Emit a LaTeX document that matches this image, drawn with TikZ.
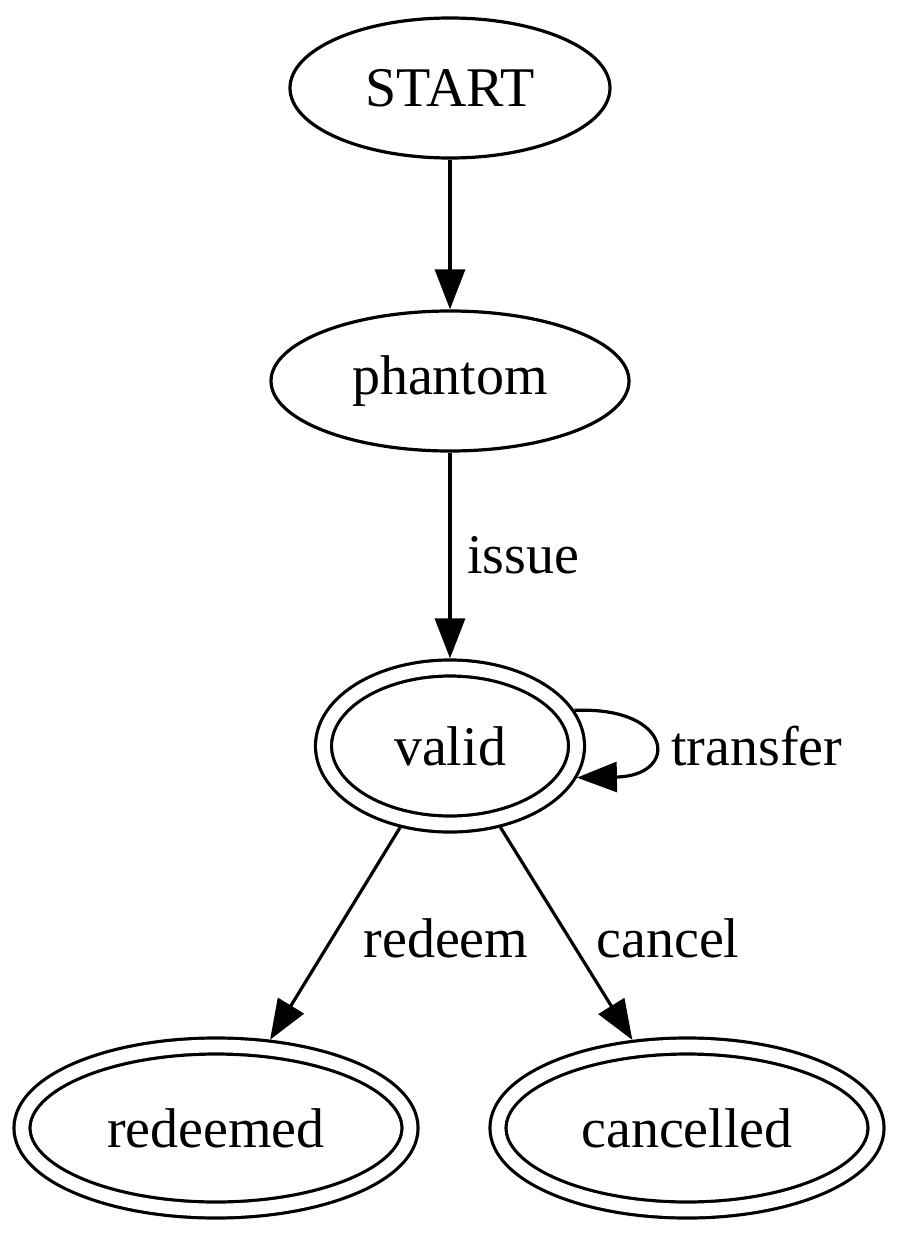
\documentclass[tikz,border=0pt]{standalone}
\usepackage{fontspec}
\setmainfont{Liberation Serif}
\usetikzlibrary{shapes.geometric,arrows.meta}
\begin{document}
\begin{tikzpicture}[x=1pt,y=-1pt,
  every node/.style={font=\fontsize{56}{66}\selectfont},
  state/.style={ellipse,draw,line width=3.2pt,inner sep=0pt,outer sep=1.6pt},
  final/.style={ellipse,draw,line width=3.2pt,double,double distance=12.8pt,inner sep=0pt,outer sep=9.6pt},
  lbl/.style={inner sep=0pt},
  edge/.style={line width=3.2pt,-{Triangle[length=40pt,width=30pt]}}]
\useasboundingbox (0,0) rectangle (900,1234);
\node[state,minimum width=320pt,minimum height=140pt] (start) at (450,88) {START};
\node[state,minimum width=358pt,minimum height=140pt] (phantom) at (450,381) {phantom};
\node[final,minimum width=253pt,minimum height=156pt] (valid) at (450,746) {valid};
\node[final,minimum width=388pt,minimum height=164pt] (redeemed) at (216,1128) {redeemed};
\node[final,minimum width=378pt,minimum height=164pt] (cancelled) at (687,1128) {cancelled};
\draw[edge] (start) -- (phantom);
\draw[edge] (phantom) -- (valid);
\node[lbl,anchor=west] (lissue) at (467,555) {issue};
\draw[edge] (valid.16) .. controls (674,706) and (680,776) .. (valid.-14);
\node[lbl,anchor=west] (ltransfer) at (671,746) {transfer};
\draw[edge] (valid) -- (redeemed);
\node[lbl] (lredeem) at (446,938) {redeem};
\draw[edge] (valid) -- (cancelled);
\node[lbl] (lcancel) at (668,938) {cancel};
\end{tikzpicture}
\end{document}
